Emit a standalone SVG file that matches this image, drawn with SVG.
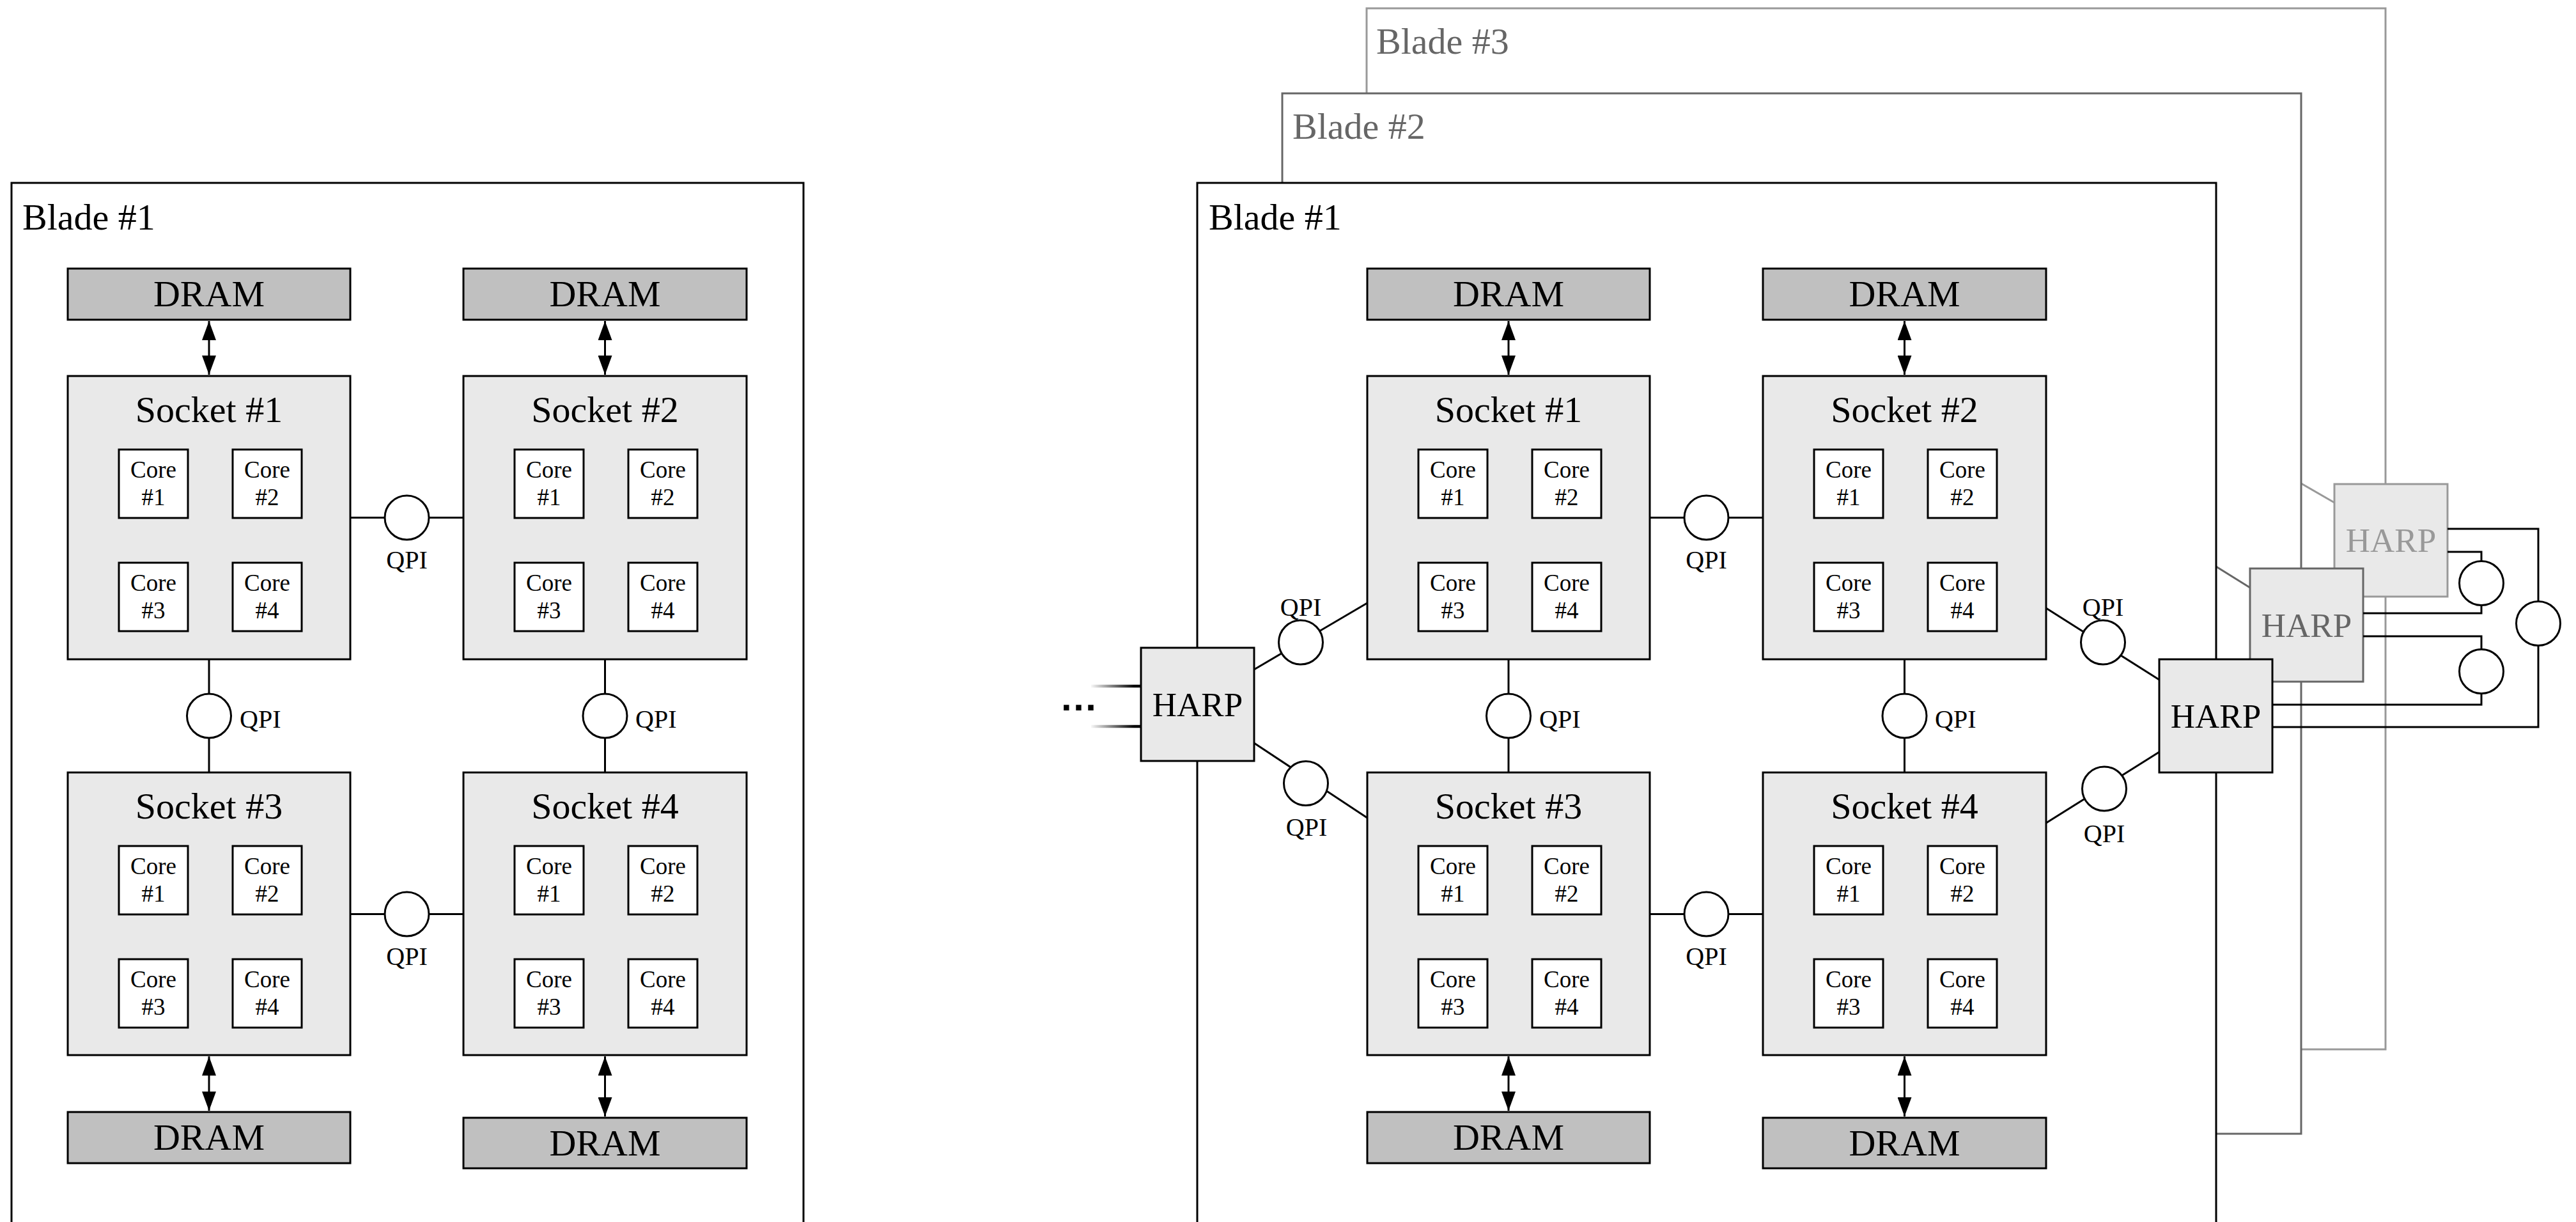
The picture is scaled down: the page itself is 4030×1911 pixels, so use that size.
<svg xmlns="http://www.w3.org/2000/svg" width="4030" height="1911" viewBox="0 0 4030 1911">
<style>
  .t{font-family:"Liberation Serif","Times New Roman",serif;fill:#000}
  .big{font-size:58px}
  .hl{font-size:53px}
  .ql{font-size:40px}
  .cl{font-size:37px}
  .mid{text-anchor:middle}
  .blade{fill:#fff;stroke:#000;stroke-width:3}
  .sock{fill:#e9e9e9;stroke:#000;stroke-width:3}
  .dram{fill:#c0c0c0;stroke:#000;stroke-width:3}
  .core{fill:#fff;stroke:#000;stroke-width:3}
  .harp{fill:#e9e9e9;stroke:#000;stroke-width:3}
  .ln{stroke:#000;stroke-width:3;fill:none}
  .qpi{fill:#fff;stroke:#000;stroke-width:3}
  .arr{stroke:#000;stroke-width:3;fill:none;marker-start:url(#ah);marker-end:url(#ah)}
  .g6{stroke:#666}
  .g9{stroke:#999}
</style>
<defs>
  <marker id="ah" viewBox="0 0 30 22" markerWidth="30" markerHeight="22" markerUnits="userSpaceOnUse" refX="30" refY="11" orient="auto-start-reverse">
    <path d="M0,0 L30,11 L0,22 Z" fill="#000"/>
  </marker>
  <linearGradient id="fade" gradientUnits="userSpaceOnUse" x1="1705" y1="0" x2="1775" y2="0">
    <stop offset="0" stop-color="#fff"/>
    <stop offset="1" stop-color="#000"/>
  </linearGradient>
</defs>

<!-- ===== Left: single blade ===== -->
<g id="L-blade1">
  <rect class="blade" x="18" y="286" width="1239" height="1700"/>
  <text class="t big" x="35" y="359">Blade #1</text>
</g>

<g id="L-nodes">
  <g id="L-dram1"><rect class="dram" x="106" y="420" width="442" height="80"/><text class="t big mid" x="327" y="479">DRAM</text></g>
  <g id="L-dram2"><rect class="dram" x="725" y="420" width="443" height="80"/><text class="t big mid" x="946.5" y="479">DRAM</text></g>
  <g id="L-dram3"><rect class="dram" x="106" y="1739" width="442" height="80"/><text class="t big mid" x="327" y="1798">DRAM</text></g>
  <g id="L-dram4"><rect class="dram" x="725" y="1748" width="443" height="79"/><text class="t big mid" x="946.5" y="1807">DRAM</text></g>

  <g id="L-socket1">
    <rect class="sock" x="106" y="588" width="442" height="443"/>
    <text class="t big mid" x="327" y="660">Socket #1</text>
    <rect class="core" x="186" y="703" width="108" height="107"/><text class="t cl mid" x="240" y="747">Core</text><text class="t cl mid" x="240" y="790">#1</text>
    <rect class="core" x="364" y="703" width="108" height="107"/><text class="t cl mid" x="418" y="747">Core</text><text class="t cl mid" x="418" y="790">#2</text>
    <rect class="core" x="186" y="880" width="108" height="107"/><text class="t cl mid" x="240" y="924">Core</text><text class="t cl mid" x="240" y="967">#3</text>
    <rect class="core" x="364" y="880" width="108" height="107"/><text class="t cl mid" x="418" y="924">Core</text><text class="t cl mid" x="418" y="967">#4</text>
  </g>
  <g id="L-socket2">
    <rect class="sock" x="725" y="588" width="443" height="443"/>
    <text class="t big mid" x="946.5" y="660">Socket #2</text>
    <rect class="core" x="805" y="703" width="108" height="107"/><text class="t cl mid" x="859" y="747">Core</text><text class="t cl mid" x="859" y="790">#1</text>
    <rect class="core" x="983" y="703" width="108" height="107"/><text class="t cl mid" x="1037" y="747">Core</text><text class="t cl mid" x="1037" y="790">#2</text>
    <rect class="core" x="805" y="880" width="108" height="107"/><text class="t cl mid" x="859" y="924">Core</text><text class="t cl mid" x="859" y="967">#3</text>
    <rect class="core" x="983" y="880" width="108" height="107"/><text class="t cl mid" x="1037" y="924">Core</text><text class="t cl mid" x="1037" y="967">#4</text>
  </g>
  <g id="L-socket3">
    <rect class="sock" x="106" y="1208" width="442" height="442"/>
    <text class="t big mid" x="327" y="1280">Socket #3</text>
    <rect class="core" x="186" y="1323" width="108" height="107"/><text class="t cl mid" x="240" y="1367">Core</text><text class="t cl mid" x="240" y="1410">#1</text>
    <rect class="core" x="364" y="1323" width="108" height="107"/><text class="t cl mid" x="418" y="1367">Core</text><text class="t cl mid" x="418" y="1410">#2</text>
    <rect class="core" x="186" y="1500" width="108" height="107"/><text class="t cl mid" x="240" y="1544">Core</text><text class="t cl mid" x="240" y="1587">#3</text>
    <rect class="core" x="364" y="1500" width="108" height="107"/><text class="t cl mid" x="418" y="1544">Core</text><text class="t cl mid" x="418" y="1587">#4</text>
  </g>
  <g id="L-socket4">
    <rect class="sock" x="725" y="1208" width="443" height="442"/>
    <text class="t big mid" x="946.5" y="1280">Socket #4</text>
    <rect class="core" x="805" y="1323" width="108" height="107"/><text class="t cl mid" x="859" y="1367">Core</text><text class="t cl mid" x="859" y="1410">#1</text>
    <rect class="core" x="983" y="1323" width="108" height="107"/><text class="t cl mid" x="1037" y="1367">Core</text><text class="t cl mid" x="1037" y="1410">#2</text>
    <rect class="core" x="805" y="1500" width="108" height="107"/><text class="t cl mid" x="859" y="1544">Core</text><text class="t cl mid" x="859" y="1587">#3</text>
    <rect class="core" x="983" y="1500" width="108" height="107"/><text class="t cl mid" x="1037" y="1544">Core</text><text class="t cl mid" x="1037" y="1587">#4</text>
  </g>
</g>

<g id="L-connectors">
  <line class="arr" x1="327" y1="502" x2="327" y2="586"/>
  <line class="arr" x1="946.5" y1="502" x2="946.5" y2="586"/>
  <line class="arr" x1="327" y1="1652" x2="327" y2="1737"/>
  <line class="arr" x1="946.5" y1="1652" x2="946.5" y2="1746"/>
  <line class="ln" x1="548" y1="809.5" x2="725" y2="809.5"/>
  <line class="ln" x1="548" y1="1429.5" x2="725" y2="1429.5"/>
  <line class="ln" x1="327" y1="1031" x2="327" y2="1208"/>
  <line class="ln" x1="946.5" y1="1031" x2="946.5" y2="1208"/>
  <circle class="qpi" cx="636.5" cy="809.5" r="34.5"/>
  <circle class="qpi" cx="636.5" cy="1429.5" r="34.5"/>
  <circle class="qpi" cx="327" cy="1119.5" r="34.5"/>
  <circle class="qpi" cx="946.5" cy="1119.5" r="34.5"/>
  <text class="t ql mid" x="636.5" y="889">QPI</text>
  <text class="t ql mid" x="636.5" y="1509">QPI</text>
  <text class="t ql" x="375" y="1138">QPI</text>
  <text class="t ql" x="994" y="1138">QPI</text>
</g>

<!-- ===== Right: stacked blades joined through HARP ===== -->
<g id="R-blade3">
  <rect class="blade g9" x="2138" y="13" width="1594" height="1628"/>
  <text class="t big" x="2153" y="84" style="fill:#666">Blade #3</text>
</g>
<line class="ln g9" x1="3600" y1="756" x2="3652" y2="786"/>
<g id="R-harp3">
  <rect class="harp g9" x="3652" y="757" width="177" height="176"/>
  <text class="t hl mid" x="3740.5" y="863" style="fill:#999">HARP</text>
</g>

<g id="R-blade2">
  <rect class="blade g6" x="2006" y="146" width="1594" height="1627"/>
  <text class="t big" x="2022" y="217" style="fill:#666">Blade #2</text>
</g>
<line class="ln g6" x1="3467" y1="886" x2="3520" y2="919"/>
<g id="R-harp2">
  <rect class="harp g6" x="3520" y="889" width="177" height="177"/>
  <text class="t hl mid" x="3608.5" y="996" style="fill:#666">HARP</text>
</g>

<g id="R-blade1">
  <rect class="blade" x="1873" y="286" width="1594" height="1700"/>
  <text class="t big" x="1891" y="359">Blade #1</text>
</g>

<g id="R-nodes" transform="translate(2033,0)">
  <g id="R-dram1"><rect class="dram" x="106" y="420" width="442" height="80"/><text class="t big mid" x="327" y="479">DRAM</text></g>
  <g id="R-dram2"><rect class="dram" x="725" y="420" width="443" height="80"/><text class="t big mid" x="946.5" y="479">DRAM</text></g>
  <g id="R-dram3"><rect class="dram" x="106" y="1739" width="442" height="80"/><text class="t big mid" x="327" y="1798">DRAM</text></g>
  <g id="R-dram4"><rect class="dram" x="725" y="1748" width="443" height="79"/><text class="t big mid" x="946.5" y="1807">DRAM</text></g>

  <g id="R-socket1">
    <rect class="sock" x="106" y="588" width="442" height="443"/>
    <text class="t big mid" x="327" y="660">Socket #1</text>
    <rect class="core" x="186" y="703" width="108" height="107"/><text class="t cl mid" x="240" y="747">Core</text><text class="t cl mid" x="240" y="790">#1</text>
    <rect class="core" x="364" y="703" width="108" height="107"/><text class="t cl mid" x="418" y="747">Core</text><text class="t cl mid" x="418" y="790">#2</text>
    <rect class="core" x="186" y="880" width="108" height="107"/><text class="t cl mid" x="240" y="924">Core</text><text class="t cl mid" x="240" y="967">#3</text>
    <rect class="core" x="364" y="880" width="108" height="107"/><text class="t cl mid" x="418" y="924">Core</text><text class="t cl mid" x="418" y="967">#4</text>
  </g>
  <g id="R-socket2">
    <rect class="sock" x="725" y="588" width="443" height="443"/>
    <text class="t big mid" x="946.5" y="660">Socket #2</text>
    <rect class="core" x="805" y="703" width="108" height="107"/><text class="t cl mid" x="859" y="747">Core</text><text class="t cl mid" x="859" y="790">#1</text>
    <rect class="core" x="983" y="703" width="108" height="107"/><text class="t cl mid" x="1037" y="747">Core</text><text class="t cl mid" x="1037" y="790">#2</text>
    <rect class="core" x="805" y="880" width="108" height="107"/><text class="t cl mid" x="859" y="924">Core</text><text class="t cl mid" x="859" y="967">#3</text>
    <rect class="core" x="983" y="880" width="108" height="107"/><text class="t cl mid" x="1037" y="924">Core</text><text class="t cl mid" x="1037" y="967">#4</text>
  </g>
  <g id="R-socket3">
    <rect class="sock" x="106" y="1208" width="442" height="442"/>
    <text class="t big mid" x="327" y="1280">Socket #3</text>
    <rect class="core" x="186" y="1323" width="108" height="107"/><text class="t cl mid" x="240" y="1367">Core</text><text class="t cl mid" x="240" y="1410">#1</text>
    <rect class="core" x="364" y="1323" width="108" height="107"/><text class="t cl mid" x="418" y="1367">Core</text><text class="t cl mid" x="418" y="1410">#2</text>
    <rect class="core" x="186" y="1500" width="108" height="107"/><text class="t cl mid" x="240" y="1544">Core</text><text class="t cl mid" x="240" y="1587">#3</text>
    <rect class="core" x="364" y="1500" width="108" height="107"/><text class="t cl mid" x="418" y="1544">Core</text><text class="t cl mid" x="418" y="1587">#4</text>
  </g>
  <g id="R-socket4">
    <rect class="sock" x="725" y="1208" width="443" height="442"/>
    <text class="t big mid" x="946.5" y="1280">Socket #4</text>
    <rect class="core" x="805" y="1323" width="108" height="107"/><text class="t cl mid" x="859" y="1367">Core</text><text class="t cl mid" x="859" y="1410">#1</text>
    <rect class="core" x="983" y="1323" width="108" height="107"/><text class="t cl mid" x="1037" y="1367">Core</text><text class="t cl mid" x="1037" y="1410">#2</text>
    <rect class="core" x="805" y="1500" width="108" height="107"/><text class="t cl mid" x="859" y="1544">Core</text><text class="t cl mid" x="859" y="1587">#3</text>
    <rect class="core" x="983" y="1500" width="108" height="107"/><text class="t cl mid" x="1037" y="1544">Core</text><text class="t cl mid" x="1037" y="1587">#4</text>
  </g>
</g>

<g id="R-harp-left">
  <rect class="harp" x="1785" y="1013" width="177" height="177"/>
  <text class="t hl mid" x="1873.5" y="1120">HARP</text>
</g>
<g id="R-harp1">
  <rect class="harp" x="3378" y="1031" width="177" height="177"/>
  <text class="t hl mid" x="3466.5" y="1138">HARP</text>
</g>

<g id="R-connectors">
  <g transform="translate(2033,0)">
    <line class="arr" x1="327" y1="502" x2="327" y2="586"/>
    <line class="arr" x1="946.5" y1="502" x2="946.5" y2="586"/>
    <line class="arr" x1="327" y1="1652" x2="327" y2="1737"/>
    <line class="arr" x1="946.5" y1="1652" x2="946.5" y2="1746"/>
    <line class="ln" x1="548" y1="809.5" x2="725" y2="809.5"/>
    <line class="ln" x1="548" y1="1429.5" x2="725" y2="1429.5"/>
    <line class="ln" x1="327" y1="1031" x2="327" y2="1208"/>
    <line class="ln" x1="946.5" y1="1031" x2="946.5" y2="1208"/>
    <circle class="qpi" cx="636.5" cy="809.5" r="34.5"/>
    <circle class="qpi" cx="636.5" cy="1429.5" r="34.5"/>
    <circle class="qpi" cx="327" cy="1119.5" r="34.5"/>
    <circle class="qpi" cx="946.5" cy="1119.5" r="34.5"/>
    <text class="t ql mid" x="636.5" y="889">QPI</text>
    <text class="t ql mid" x="636.5" y="1509">QPI</text>
    <text class="t ql" x="375" y="1138">QPI</text>
    <text class="t ql" x="994" y="1138">QPI</text>
  </g>

  <!-- HARP links to the outer sockets -->
  <line class="ln" x1="1962" y1="1047" x2="2139" y2="943"/>
  <line class="ln" x1="1962" y1="1162" x2="2139" y2="1279"/>
  <line class="ln" x1="3201" y1="951" x2="3378" y2="1063"/>
  <line class="ln" x1="3201" y1="1287" x2="3378" y2="1176"/>
  <circle class="qpi" cx="2035" cy="1004.5" r="34.5"/>
  <circle class="qpi" cx="2043" cy="1225" r="34.5"/>
  <circle class="qpi" cx="3290" cy="1004.5" r="34.5"/>
  <circle class="qpi" cx="3292" cy="1233.5" r="34.5"/>
  <text class="t ql mid" x="2035" y="963">QPI</text>
  <text class="t ql mid" x="2044" y="1307">QPI</text>
  <text class="t ql mid" x="3290" y="963">QPI</text>
  <text class="t ql mid" x="3292" y="1317">QPI</text>

  <!-- links leaving to further blades on the left -->
  <line x1="1707" y1="1073" x2="1784" y2="1073" stroke="url(#fade)" stroke-width="4.5"/>
  <line x1="1707" y1="1136" x2="1784" y2="1136" stroke="url(#fade)" stroke-width="4.5"/>
  <text x="1687.5" y="1111" text-anchor="middle" style="font-family:'Liberation Sans',Arial,sans-serif;font-weight:bold;font-size:60px">…</text>

  <!-- HARP to HARP links between blades -->
  <path class="ln" d="M3829,827 H3971 V1137 H3555"/>
  <path class="ln" d="M3829,863 H3882 V959 H3697"/>
  <path class="ln" d="M3697,995 H3882 V1102 H3555"/>
  <circle class="qpi" cx="3971" cy="975" r="34.5"/>
  <circle class="qpi" cx="3882" cy="912" r="34.5"/>
  <circle class="qpi" cx="3882" cy="1050" r="34.5"/>
</g>
</svg>
